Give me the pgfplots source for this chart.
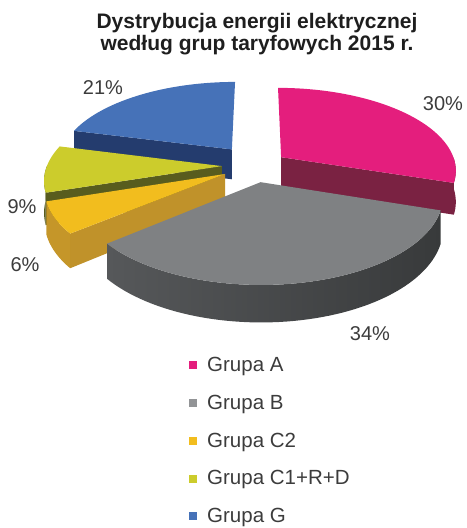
\documentclass[border=0pt]{standalone}
\usepackage{pgfplots}
\pgfplotsset{compat=1.18}
\usepackage{fontspec}
\setmainfont{Liberation Sans}
\definecolor{pinkTop}{RGB}{228,30,125}
\definecolor{pinkSide}{RGB}{122,34,66}
\definecolor{grayTop}{RGB}{127,129,131}
\definecolor{graySideL}{RGB}{86,88,90}
\definecolor{graySideM}{RGB}{88,90,92}
\definecolor{graySideR}{RGB}{56,58,59}
\definecolor{yelTop}{RGB}{242,189,30}
\definecolor{yelSide}{RGB}{192,146,42}
\definecolor{grnTop}{RGB}{204,204,44}
\definecolor{grnSide}{RGB}{88,92,30}
\definecolor{bluTop}{RGB}{70,114,184}
\definecolor{bluSide}{RGB}{36,60,110}
\definecolor{txt}{RGB}{60,60,60}
\definecolor{ttl}{RGB}{30,30,30}
% slice: #1 apex a, #2 apex b, #3 start angle, #4 end angle (clockwise from 12 o'clock)
\newcommand\topface[5]{%
 \addplot[draw=none, fill=#5, forget plot, variable=\t, domain=0:62, samples=63]
 ({PX(#1+rr(\t)*sin(th(\t,#3,#4)), #2+rr(\t)*cos(th(\t,#3,#4)))},
  {PY(#1+rr(\t)*sin(th(\t,#3,#4)), #2+rr(\t)*cos(th(\t,#3,#4)), 0)});}
\newcommand\outerwall[5]{%
 \addplot[draw=none, #5, forget plot, variable=\t, domain=0:121, samples=122]
 ({PX(#1+sin(wa(\t,#3,#4)), #2+cos(wa(\t,#3,#4)))},
  {PY(#1+sin(wa(\t,#3,#4)), #2+cos(wa(\t,#3,#4)), wh(\t))});}
\newcommand\cutface[4]{%
 \addplot[draw=none, fill=#4, forget plot, variable=\t, domain=0:3, samples=4]
 ({PX(#1+cr(\t)*sin(#3), #2+cr(\t)*cos(#3))},
  {PY(#1+cr(\t)*sin(#3), #2+cr(\t)*cos(#3), ch(\t))});}
\begin{document}
\begin{tikzpicture}
\begin{axis}[
  width=464pt, height=528pt, scale only axis,
  xmin=0, xmax=464, ymin=0, ymax=528, y dir=reverse,
  hide axis, clip=false,
  declare function={
    PX(\pa,\pb)=257+176*\pa/(1+0.15*\pb);
    PY(\pa,\pb,\ph)=169+(31*\ph-83*\pb)/(1+0.15*\pb);
    rr(\uu)=((\uu<0.5)||(\uu>61.5)) ? 0 : 1;
    th(\uu,\pp,\qq)=\pp+(\uu-1)/60*(\qq-\pp);
    wh(\uu)=(\uu<60.5) ? 0 : 1;
    wa(\uu,\pp,\qq)=(\uu<60.5) ? (\pp+\uu/60*(\qq-\pp)) : (\qq-(\uu-61)/60*(\qq-\pp));
    cr(\uu)=((\uu>0.5)&&(\uu<2.5)) ? 1 : 0;
    ch(\uu)=(\uu>1.5) ? 1 : 0;
  },
  legend image code/.code={\fill (0pt,-4pt) rectangle (8pt,4pt);},
  legend style={overlay, draw=none, fill=none, at={(axis cs:189,355)}, anchor=north west,
    font=\fontsize{20.5}{23}\selectfont, text=txt, row sep=18pt, inner sep=0pt,
    /tikz/every odd column/.append style={column sep=8pt}},
  legend cell align=left,
]
\path (axis cs:0,0) rectangle (axis cs:464,528);
\addlegendimage{fill=pinkTop, draw=none}\addlegendentry{Grupa A}
\addlegendimage{fill=grayTop!85!white, draw=none}\addlegendentry{Grupa B}
\addlegendimage{fill=yelTop, draw=none}\addlegendentry{Grupa C2}
\addlegendimage{fill=grnTop, draw=none}\addlegendentry{Grupa C1+R+D}
\addlegendimage{fill=bluTop, draw=none}\addlegendentry{Grupa G}
% Grupa A 30%: 0 - 108
\cutface{0.140}{0.1455}{108}{pinkSide}
\outerwall{0.140}{0.1455}{90}{108}{fill=pinkSide}
\topface{0.140}{0.1455}{0}{108}{pinkTop}
% Grupa G 21%: 284.4 - 360
\cutface{-0.148}{0.245}{284.4}{bluSide}
\topface{-0.148}{0.245}{284.4}{360}{bluTop}
% Grupa C1+R+D 9%: 252 - 284.4
\cutface{-0.20}{0.035}{252}{grnSide}
\outerwall{-0.20}{0.035}{252}{270}{fill=grnSide}
\topface{-0.20}{0.035}{252}{284.4}{grnTop}
% Grupa C2 6%: 230.4 - 252
\cutface{-0.180}{-0.0595}{230.4}{yelSide}
\outerwall{-0.180}{-0.0595}{230.4}{252}{fill=yelSide!90!yelTop}
\topface{-0.180}{-0.0595}{230.4}{252}{yelTop}
% Grupa B 34%: 108 - 230.4
\outerwall{0.02}{-0.155}{108}{230.4}{left color=graySideL, middle color=graySideM, right color=graySideR}
\topface{0.02}{-0.155}{108}{230.4}{grayTop}
% labels
\node[font=\fontsize{20}{20}\selectfont, text=txt] at (axis cs:443,104) {30\%};
\node[font=\fontsize{20}{20}\selectfont, text=txt] at (axis cs:103,88) {21\%};
\node[font=\fontsize{20}{20}\selectfont, text=txt] at (axis cs:22,207) {9\%};
\node[font=\fontsize{20}{20}\selectfont, text=txt] at (axis cs:25,265) {6\%};
\node[font=\fontsize{20}{20}\selectfont, text=txt] at (axis cs:370,334) {34\%};
\node[font=\bfseries\fontsize{21}{22}\selectfont, text=ttl, anchor=base] at (axis cs:257,28) {Dystrybucja energii elektrycznej};
\node[font=\bfseries\fontsize{21}{22}\selectfont, text=ttl, anchor=base] at (axis cs:257,50) {według grup taryfowych 2015 r.};
\end{axis}
\end{tikzpicture}
\end{document}
